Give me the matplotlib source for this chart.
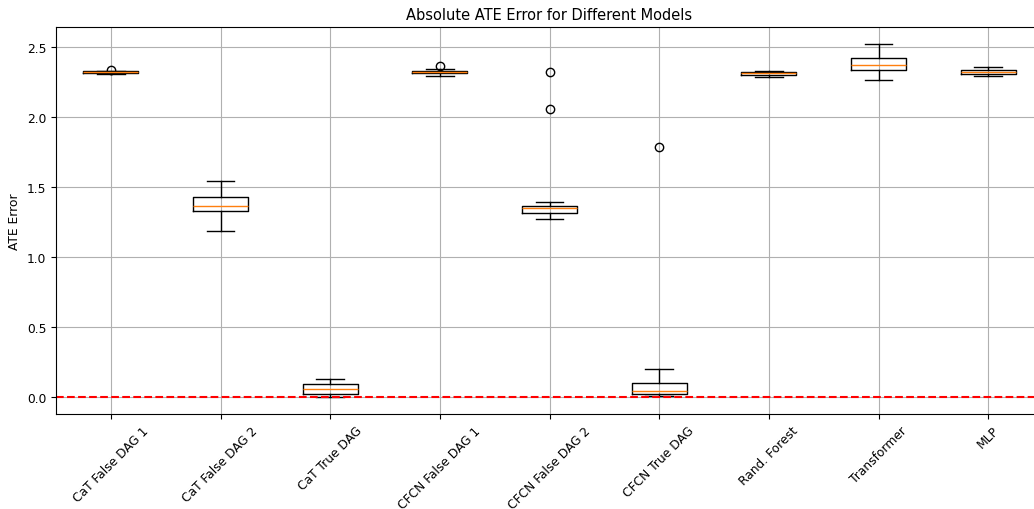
import matplotlib
matplotlib.use("Agg")
import matplotlib.pyplot as plt

models = ["CaT False DAG 1", "CaT False DAG 2", "CaT True DAG",
          "CFCN False DAG 1", "CFCN False DAG 2", "CFCN True DAG",
          "Rand. Forest", "Transformer", "MLP"]

# box statistics
medians = [2.320, 1.367, 0.057, 2.319, 1.348, 0.043, 2.312, 2.374, 2.324]
q1s = [2.314, 1.328, 0.024, 2.312, 1.315, 0.024, 2.302, 2.334, 2.307]
q3s = [2.326, 1.431, 0.090, 2.326, 1.367, 0.098, 2.324, 2.419, 2.338]
whis_lo = [2.310, 1.183, 0.002, 2.293, 1.271, 0.005, 2.285, 2.264, 2.295]
whis_hi = [2.330, 1.543, 0.131, 2.343, 1.393, 0.200, 2.331, 2.519, 2.355]
outliers = [[2.338], [], [], [2.362], [2.324, 2.059], [1.784], [], [], []]

stats = []
for i in range(len(models)):
    stats.append({"med": medians[i], "q1": q1s[i], "q3": q3s[i],
                  "whislo": whis_lo[i], "whishi": whis_hi[i],
                  "fliers": outliers[i], "label": models[i]})

plt.rcParams["font.size"] = 8.8

fig = plt.figure(figsize=(10.34, 5.1), dpi=100)
ax = fig.add_axes([56 / 1034, 1 - 415 / 510, (1043 - 56) / 1034, (415 - 28) / 510])

ax.bxp(stats)
ax.axhline(0, color="red", linestyle="--")

ax.set_ylim(-0.121, 2.643)
ax.set_ylabel("ATE Error")
ax.set_title("Absolute ATE Error for Different Models")
plt.setp(ax.get_xticklabels(), rotation=45)
ax.grid(True)

fig.savefig("out.png", dpi=100)
